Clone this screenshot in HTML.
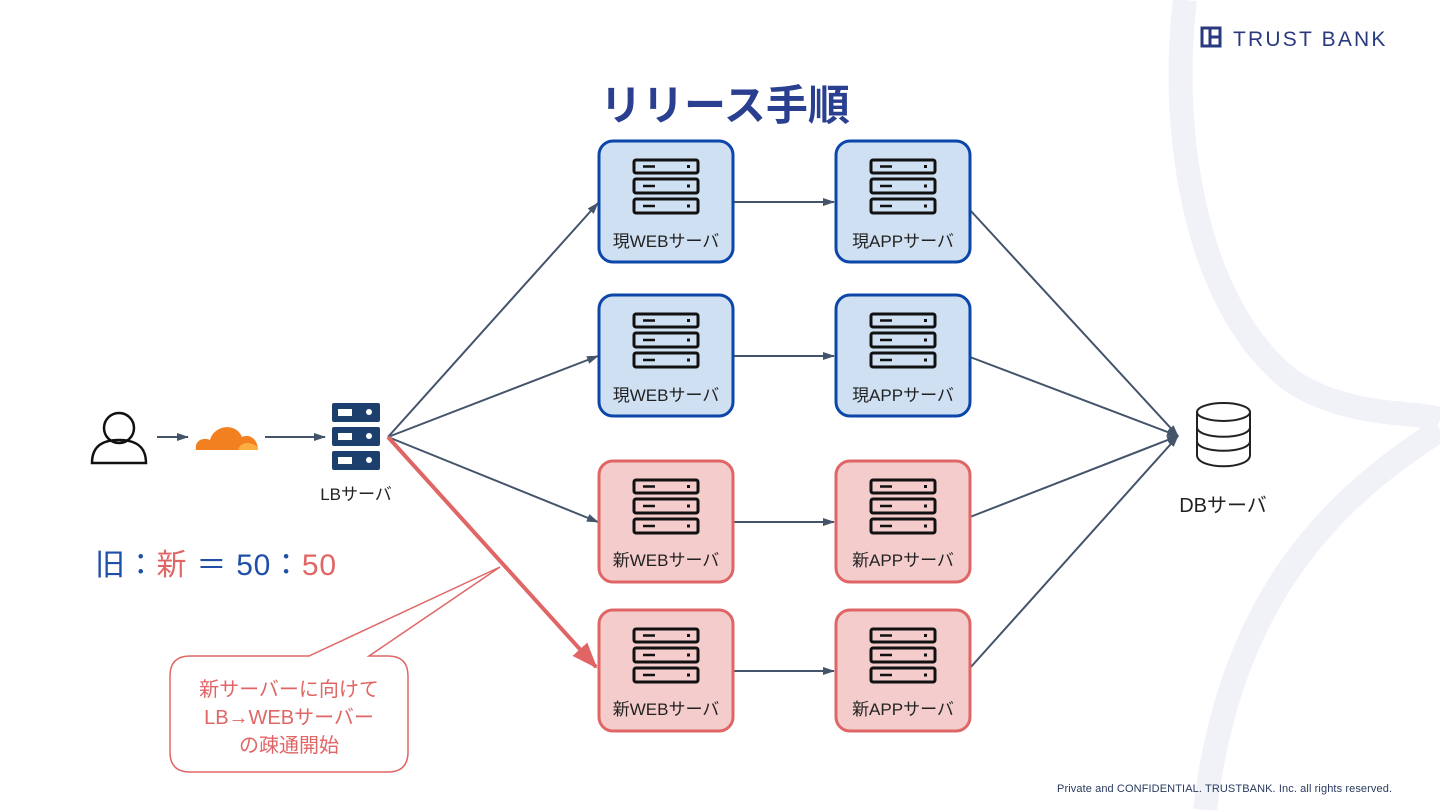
<!DOCTYPE html>
<html><head><meta charset="utf-8"><style>
body{margin:0;width:1440px;height:810px;overflow:hidden;background:#fff;font-family:"Liberation Sans","Noto Sans CJK JP",sans-serif}
svg{position:absolute;left:0;top:0}
</style></head><body>
<svg width="1440" height="810" viewBox="0 0 1440 810" font-family="Liberation Sans, Noto Sans CJK JP, sans-serif">
<defs>
<marker id="a" markerWidth="12" markerHeight="10" refX="11" refY="5" orient="auto" markerUnits="userSpaceOnUse"><path d="M0,1 L12,5 L0,9 z" fill="#44546a"/></marker>
<marker id="r" markerWidth="26" markerHeight="26" refX="24" refY="13" orient="auto" markerUnits="userSpaceOnUse"><path d="M0,3 L26,13 L0,23 z" fill="#e06666"/></marker>
<g id="srv" fill="none" stroke="#111" stroke-width="3">
<rect x="0" y="0" width="64" height="13" rx="2"/><rect x="0" y="19" width="64" height="14" rx="2"/><rect x="0" y="39" width="64" height="14" rx="2"/>
<path d="M9 6.5h12M9 26h12M9 46h12" stroke-width="2.5"/>
<path d="M53 6.5h3M53 26h3M53 46h3" stroke-width="3"/>
</g>
</defs>
<path d="M1185 0 C1170 120 1190 300 1290 380 C1350 420 1420 410 1440 420" stroke="#f0f2f8" stroke-width="24" fill="none"/>
<path d="M1440 430 C1330 500 1230 600 1205 810" stroke="#f0f2f8" stroke-width="24" fill="none"/>

<rect x="1202" y="28" width="18" height="18" fill="none" stroke="#2a3a80" stroke-width="3"/><path d="M1210 28v18M1210 37h10" stroke="#2a3a80" stroke-width="3"/>
<text x="1233" y="46" font-size="21" fill="#2a3a80" letter-spacing="2.2">TRUST BANK</text>

<text x="600" y="120" font-size="42" font-weight="bold" fill="#2a3f8f">リリース手順</text>

<!-- user -->
<circle cx="119" cy="428" r="15" fill="none" stroke="#111" stroke-width="2.5"/>
<path d="M92 463 C92 445 104 440 119 440 C134 440 146 445 146 463 Z" fill="none" stroke="#111" stroke-width="2.5"/>
<line x1="157" y1="437" x2="188" y2="437" stroke="#44546a" stroke-width="2" marker-end="url(#a)"/>
<!-- cloud -->
<path d="M196 450 C194 440 204 437 210 440 C214 425 236 422 242 437 C250 433 258 440 258 450 Z" fill="#f38020"/>
<path d="M238 450 C240 443 248 440 258 447 L258 450 Z" fill="#faae40"/>
<line x1="265" y1="437" x2="325" y2="437" stroke="#44546a" stroke-width="2" marker-end="url(#a)"/>
<!-- LB -->
<g fill="#1d3f6e"><rect x="332" y="403" width="48" height="19" rx="2"/><rect x="332" y="427" width="48" height="19" rx="2"/><rect x="332" y="451" width="48" height="19" rx="2"/></g>
<g fill="#fff"><rect x="338" y="409" width="14" height="7"/><rect x="338" y="433" width="14" height="7"/><rect x="338" y="457" width="14" height="7"/>
<circle cx="369" cy="412" r="3"/><circle cx="369" cy="436" r="3"/><circle cx="369" cy="460" r="3"/></g>
<text x="356" y="500" font-size="17" text-anchor="middle" fill="#222">LBサーバ</text>

<text x="95" y="575" font-size="30" fill="#1f4fa8" textLength="241">旧：<tspan fill="#e06666">新</tspan> ＝ 50：<tspan fill="#e06666">50</tspan></text>

<!-- connectors -->
<g stroke="#44546a" stroke-width="2" fill="none" marker-end="url(#a)">
<line x1="388" y1="437" x2="598" y2="203"/>
<line x1="388" y1="437" x2="598" y2="356"/>
<line x1="388" y1="437" x2="598" y2="522"/>
<line x1="733" y1="202" x2="834" y2="202"/>
<line x1="733" y1="356" x2="834" y2="356"/>
<line x1="733" y1="522" x2="834" y2="522"/>
<line x1="733" y1="671" x2="834" y2="671"/>
<line x1="970" y1="210" x2="1178" y2="436"/>
<line x1="970" y1="357" x2="1178" y2="436"/>
<line x1="970" y1="517" x2="1178" y2="436"/>
<line x1="970" y1="668" x2="1178" y2="436"/>
</g>
<line x1="388" y1="437" x2="596" y2="667" stroke="#e06666" stroke-width="4" marker-end="url(#r)"/>

<!-- boxes -->
<g stroke-width="3">
<rect x="599" y="141" width="134" height="121" rx="14" fill="#cfe0f3" stroke="#0b46a8"/>
<rect x="836" y="141" width="134" height="121" rx="14" fill="#cfe0f3" stroke="#0b46a8"/>
<rect x="599" y="295" width="134" height="121" rx="14" fill="#cfe0f3" stroke="#0b46a8"/>
<rect x="836" y="295" width="134" height="121" rx="14" fill="#cfe0f3" stroke="#0b46a8"/>
<rect x="599" y="461" width="134" height="121" rx="14" fill="#f4cccc" stroke="#e06666"/>
<rect x="836" y="461" width="134" height="121" rx="14" fill="#f4cccc" stroke="#e06666"/>
<rect x="599" y="610" width="134" height="121" rx="14" fill="#f4cccc" stroke="#e06666"/>
<rect x="836" y="610" width="134" height="121" rx="14" fill="#f4cccc" stroke="#e06666"/>
</g>
<use href="#srv" x="634" y="160"/><use href="#srv" x="871" y="160"/>
<use href="#srv" x="634" y="314"/><use href="#srv" x="871" y="314"/>
<use href="#srv" x="634" y="480"/><use href="#srv" x="871" y="480"/>
<use href="#srv" x="634" y="629"/><use href="#srv" x="871" y="629"/>
<g font-size="17" text-anchor="middle" fill="#222">
<text x="666" y="247">現WEBサーバ</text><text x="903" y="247">現APPサーバ</text>
<text x="666" y="401">現WEBサーバ</text><text x="903" y="401">現APPサーバ</text>
<text x="666" y="566">新WEBサーバ</text><text x="903" y="566">新APPサーバ</text>
<text x="666" y="715">新WEBサーバ</text><text x="903" y="715">新APPサーバ</text>
</g>

<!-- DB -->
<g fill="#fff" stroke="#222" stroke-width="2">
<path d="M1197 412 V455 C1197 470 1250 470 1250 455 V412"/>
<ellipse cx="1223.5" cy="412" rx="26.5" ry="9"/>
<path d="M1197 427 C1197 440 1250 440 1250 427 M1197 441 C1197 454 1250 454 1250 441" fill="none"/>
</g>
<text x="1223" y="512" font-size="20" text-anchor="middle" fill="#222">DBサーバ</text>

<!-- callout -->
<path d="M190 656 H309 L500 567 L369 656 H388 Q408 656 408 676 V752 Q408 772 388 772 H190 Q170 772 170 752 V676 Q170 656 190 656 Z" fill="#fff" stroke="#e06666" stroke-width="1.5"/>
<g font-size="20" text-anchor="middle" fill="#e06666">
<text x="289" y="696">新サーバーに向けて</text>
<text x="289" y="724">LB→WEBサーバー</text>
<text x="289" y="752">の疎通開始</text>
</g>

<text x="1392" y="792" font-size="11" text-anchor="end" fill="#2a3a60" textLength="335">Private and  CONFIDENTIAL. TRUSTBANK. Inc. all rights reserved.</text>
</svg>
</body></html>
